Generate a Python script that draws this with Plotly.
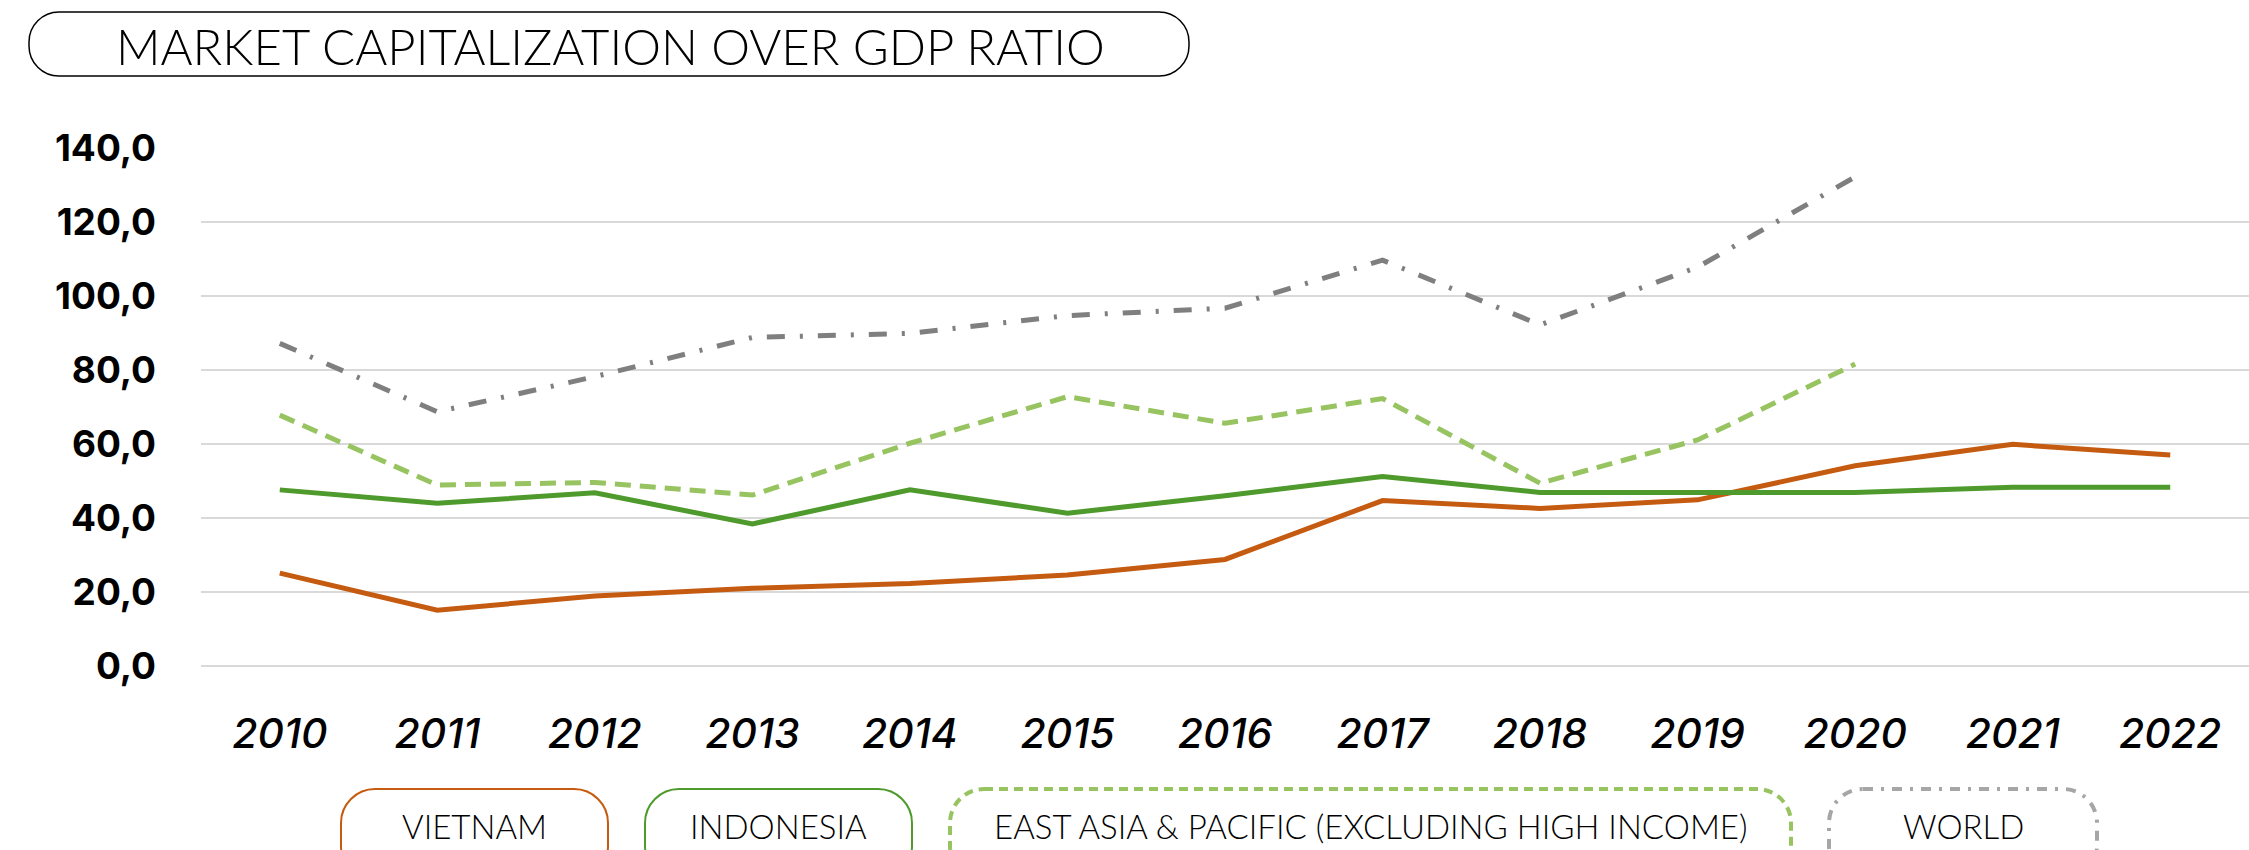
import plotly.graph_objects as go

# Market capitalization as % of GDP
years = ["2010", "2011", "2012", "2013", "2014", "2015", "2016",
         "2017", "2018", "2019", "2020", "2021", "2022"]
vietnam = [25.1, 15.1, 18.9, 21.0, 22.3, 24.6, 28.8, 44.7, 42.6, 44.9, 54.1, 59.9, 57.0]
indonesia = [47.6, 44.0, 46.8, 38.4, 47.6, 41.3, 46.0, 51.2, 46.9, 46.9, 46.9, 48.3, 48.3]
east_asia = [67.8, 48.9, 49.6, 46.2, 60.2, 72.8, 65.6, 72.3, 49.4, 61.1, 81.6, None, None]
world = [87.2, 68.7, 78.2, 88.8, 89.9, 94.7, 96.7, 109.7, 92.2, 107.8, 132.2, None, None]
y_ticks = [0, 20, 40, 60, 80, 100, 120, 140]

title_text = "MARKET CAPITALIZATION OVER GDP RATIO"
legend_names = ["VIETNAM", "INDONESIA", "EAST ASIA & PACIFIC (EXCLUDING HIGH INCOME)", "WORLD"]

C_VN = "#C55A11"
C_ID = "#4E9A2C"
C_EA = "#97C460"
C_WD = "#7F7F7F"

W, H = 2249, 850
ML, MR, MT, MB = 201, 0, 148, 184
PW, PH = W - ML - MR, H - MT - MB


def px_to_paper(x, y):
    return (x - ML) / PW, (H - MB - y) / PH


def pill_path(x0, y0, x1, y1, r):
    # rounded rectangle in pixel space, expressed in paper coordinates
    k = 0.5523 * r
    def P(x, y):
        a, b = px_to_paper(x, y)
        return f"{a:.5f},{b:.5f}"
    d = f"M {P(x0 + r, y0)} L {P(x1 - r, y0)} "
    d += f"C {P(x1 - r + k, y0)} {P(x1, y0 + r - k)} {P(x1, y0 + r)} "
    d += f"L {P(x1, y1 - r)} "
    d += f"C {P(x1, y1 - r + k)} {P(x1 - r + k, y1)} {P(x1 - r, y1)} "
    d += f"L {P(x0 + r, y1)} "
    d += f"C {P(x0 + r - k, y1)} {P(x0, y1 - r + k)} {P(x0, y1 - r)} "
    d += f"L {P(x0, y0 + r)} "
    d += f"C {P(x0, y0 + r - k)} {P(x0 + r - k, y0)} {P(x0 + r, y0)} Z"
    return d


fig = go.Figure()

fig.add_trace(go.Scatter(x=years, y=vietnam, mode="lines", name=legend_names[0],
                         line=dict(color=C_VN, width=5)))
fig.add_trace(go.Scatter(x=years, y=indonesia, mode="lines", name=legend_names[1],
                         line=dict(color=C_ID, width=5)))
fig.add_trace(go.Scatter(x=years, y=east_asia, mode="lines", name=legend_names[2],
                         line=dict(color=C_EA, width=5, dash="16px,9px")))
fig.add_trace(go.Scatter(x=years, y=world, mode="lines", name=legend_names[3],
                         line=dict(color=C_WD, width=5, dash="18px,15px,3px,15px")))

shapes = []
annotations = []

# title pill
shapes.append(dict(type="path", xref="paper", yref="paper",
                   path=pill_path(29, 12, 1189, 76, 30),
                   line=dict(color="#000000", width=1.5), fillcolor="rgba(0,0,0,0)"))
tx, ty = px_to_paper(610, 46)
annotations.append(dict(text=title_text, x=tx, y=ty, xref="paper", yref="paper",
                        xanchor="center", yanchor="middle", showarrow=False,
                        font=dict(family="Lato, Inter, sans-serif", size=49,
                                  color="#000000", weight=300)))

# custom legend pills
legend_boxes = [
    (341, 608, C_VN, None),
    (645, 912, C_ID, None),
    (950, 1791, C_EA, "9px,6px"),
    (1829, 2097, "#A6A6A6", "10px,8px,3px,8px"),
]
for name, (x0, x1, col, dash) in zip(legend_names, legend_boxes):
    line = dict(color=col, width=2)
    if dash:
        line = dict(color=col, width=4, dash=dash)
    shapes.append(dict(type="path", xref="paper", yref="paper",
                       path=pill_path(x0, 789, x1, 880, 34),
                       line=line, fillcolor="rgba(0,0,0,0)"))
    cx, cy = px_to_paper((x0 + x1) / 2, 826)
    annotations.append(dict(text=name, x=cx, y=cy, xref="paper", yref="paper",
                            xanchor="center", yanchor="middle", showarrow=False,
                            font=dict(family="Lato, Inter, sans-serif", size=33,
                                      color="#000000", weight=300)))

fig.update_layout(
    width=W, height=H,
    margin=dict(l=ML, r=MR, t=MT, b=MB, pad=0),
    paper_bgcolor="white", plot_bgcolor="white",
    showlegend=False,
    separators=", ",
    shapes=shapes,
    annotations=annotations,
    xaxis=dict(type="category", range=[-0.5, 12.5], showgrid=False, showline=False,
               zeroline=False, ticks="",
               tickfont=dict(family="Inter, Lato, sans-serif", size=41, color="#000000",
                             style="italic", weight=500),
               ticklabelstandoff=40),
    yaxis=dict(range=[0, 140], tickvals=y_ticks, tickformat=".1f",
               showgrid=True, gridcolor="#D9D9D9", gridwidth=2,
               zeroline=True, zerolinecolor="#D9D9D9", zerolinewidth=2,
               showline=False, ticks="",
               tickfont=dict(family="Inter, Lato, sans-serif", size=37, color="#000000",
                             weight=700),
               ticklabelstandoff=44),
)

fig.write_html("out.html")
